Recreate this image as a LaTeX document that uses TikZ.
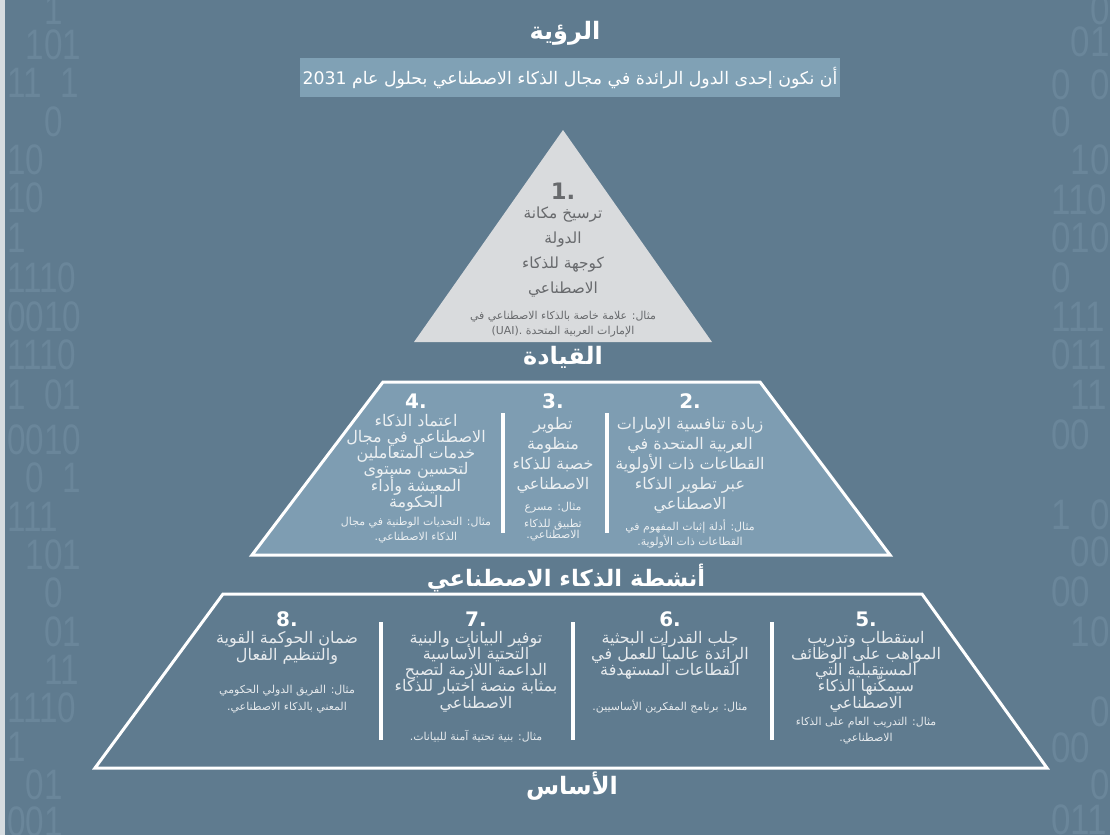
\documentclass[tikz,border=0pt]{standalone}
\usepackage{fontspec}
\TeXXeTstate=1
\newfontfamily\arfont[Script=Arabic]{DejaVu Sans}
\newfontfamily\numfont{DejaVu Sans}
\newfontfamily\digfont{Liberation Sans}
\newcommand\AR[1]{\beginR#1\endR}
\newcommand\z{\phantom{0}}
% one node per line of right-to-left text: name, x, first baseline, step, style, lines
\newcommand\arlines[6]{%
  \foreach \lin [count=\i] in {#6}
    \node[#5] (#1-\i) at (#2,{#3+(\i-1)*#4}) {\beginR\lin\endR};}
\definecolor{bgcol}{RGB}{95,123,143}
\definecolor{edgecol}{RGB}{214,220,224}
\definecolor{digcol}{RGB}{106,134,154}
\definecolor{viscol}{RGB}{128,161,181}
\definecolor{tricol}{RGB}{217,219,221}
\definecolor{tritxt}{RGB}{104,106,109}
\definecolor{midcol}{RGB}{126,157,178}
\definecolor{midtxt}{RGB}{236,240,242}
\definecolor{bottxt}{RGB}{230,234,237}
\begin{document}
\begin{tikzpicture}[x=0.75pt,y=-0.75pt,
  ttl/.style={font=\arfont\bfseries\fontsize{18}{18}\selectfont, text=white, inner sep=0pt},
  numtri/.style={font=\numfont\bfseries\fontsize{17}{17}\selectfont, text=tritxt, inner sep=0pt},
  num/.style={font=\numfont\bfseries\fontsize{15}{15}\selectfont, text=white, inner sep=0pt},
  tribody/.style={font=\arfont\fontsize{11.5}{11.5}\selectfont, text=tritxt, anchor=base, inner sep=0pt},
  triex/.style={font=\arfont\fontsize{8.2}{8.2}\selectfont, text=tritxt, anchor=base, inner sep=0pt},
  midbody/.style={font=\arfont\fontsize{12}{12}\selectfont, text=midtxt, anchor=base, inner sep=0pt},
  midex/.style={font=\arfont\fontsize{8.2}{8.2}\selectfont, text=midtxt, anchor=base, inner sep=0pt},
  botbody/.style={font=\arfont\fontsize{12}{12}\selectfont, text=bottxt, anchor=base, inner sep=0pt},
  botex/.style={font=\arfont\fontsize{8.2}{8.2}\selectfont, text=bottxt, anchor=base, inner sep=0pt},
  dig/.style={font=\digfont\fontsize{32}{32}\selectfont, text=digcol, inner sep=0pt, anchor=west},
  frame/.style={draw=white, line width=2.25pt, line join=miter},
  divider/.style={draw=white, line width=3pt}]
\useasboundingbox (0,0) rectangle (1110,835);
\fill[bgcol] (0,0) rectangle (1110,835);
\fill[edgecol] (0,0) rectangle (5,835);

% binary digits along the left and right edges
\foreach \yy/\rr [count=\i] in {10/\z\z1, 45/\z101, 83/11\z1, 122/\z\z0, 160/10, 198/10,
    238/1, 278/1110, 317/0010, 355/1110, 395/1\z01, 440/0010, 478/\z0\z1, 517/111,
    555/\z101, 593/\z\z0, 632/\z\z01, 670/\z\z11, 708/1110, 747/1, 785/\z01, 822/001}
  \node[dig] (dl\i) at (7,\yy) {\scalebox{0.78}[1]{\rr}};
\foreach \yy/\rr [count=\i] in {10/\z\z0, 42/\z01, 85/0\z0, 122/0, 160/\z10, 200/110,
    238/010, 278/0, 317/111, 355/011, 395/\z11, 435/00, 515/1\z0, 552/\z00, 592/00,
    632/\z10, 712/\z\z0, 748/00, 785/\z\z0, 820/011}
  \node[dig] (dr\i) at (1051,\yy) {\scalebox{0.82}[1]{\rr}};

% vision
\node[ttl] (vtitle) at (565,33) {\AR{الرؤية}};
\node[fill=viscol, minimum width=405pt, minimum height=29.25pt, inner sep=0pt,
  font=\arfont\fontsize{13}{13}\selectfont, text=white] (vision) at (570,77.5)
  {\AR{أن نكون إحدى الدول الرائدة في مجال الذكاء الاصطناعي بحلول عام \beginL2031\endL}};

% leadership
\fill[tricol] (563,130) -- (414,342) -- (712,342) -- cycle;
\node[numtri] (n1) at (563,191) {1.};
\arlines{g1}{563}{218}{25}{tribody}{ترسيخ مكانة, الدولة, كوجهة للذكاء, الاصطناعي}
\node[triex] (e1-1) at (563,319) {\AR{مثال: علامة خاصة بالذكاء الاصطناعي في}};
\node[triex] (e1-2) at (563,334) {{\numfont(UAI).}\ \AR{الإمارات العربية المتحدة}};
\node[ttl] (lead) at (563,357) {\AR{القيادة}};

% AI activities
\draw[frame, fill=midcol] (383,382) -- (760,382) -- (890,555) -- (252,555) -- cycle;
\draw[divider] (503,413) -- (503,533);
\draw[divider] (607,413) -- (607,533);
\node[num] (n2) at (690,401) {2.};
\arlines{g2}{690}{429}{20}{midbody}{زيادة تنافسية الإمارات, العربية المتحدة في, القطاعات ذات الأولوية, عبر تطوير الذكاء, الاصطناعي}
\arlines{e2}{690}{530}{15}{midex}{مثال: أدلة إثبات المفهوم في, القطاعات ذات الأولوية.}
\node[num] (n3) at (553,401) {3.};
\arlines{g3}{553}{429}{20}{midbody}{تطوير, منظومة, خصبة للذكاء, الاصطناعي}
\arlines{e3}{553}{510}{17}{midex}{مثال: مسرع, تطبيق للذكاء}
\node[midex] (e3-3) at (553,538) {\AR{الاصطناعي.}};
\node[num] (n4) at (416,401) {4.};
\arlines{g4}{416}{426}{16.3}{midbody}{اعتماد الذكاء, الاصطناعي في مجال, خدمات المتعاملين, لتحسين مستوى, المعيشة وأداء, الحكومة}
\arlines{e4}{416}{525}{15.5}{midex}{مثال: التحديات الوطنية في مجال, الذكاء الاصطناعي.}
\node[ttl, font=\arfont\bfseries\fontsize{17}{17}\selectfont] (act) at (566,578) {\AR{أنشطة الذكاء الاصطناعي}};

% foundation
\draw[frame] (223,594) -- (922,594) -- (1047,768) -- (95,768) -- cycle;
\draw[divider] (381,622) -- (381,740);
\draw[divider] (573,622) -- (573,740);
\draw[divider] (772,622) -- (772,740);
\node[num] (n5) at (866,619) {5.};
\arlines{g5}{866}{643}{16.3}{botbody}{استقطاب وتدريب, المواهب على الوظائف, المستقبلية التي, سيمكّنها الذكاء, الاصطناعي}
\arlines{e5}{866}{725}{16}{botex}{مثال: التدريب العام على الذكاء, الاصطناعي.}
\node[num] (n6) at (670,619) {6.};
\arlines{g6}{670}{643}{16}{botbody}{جلب القدرات البحثية, الرائدة عالمياً للعمل في, القطاعات المستهدفة}
\arlines{e6}{670}{710}{16}{botex}{مثال: برنامج المفكرين الأساسيين.}
\node[num] (n7) at (476,619) {7.};
\arlines{g7}{476}{643}{16.3}{botbody}{توفير البيانات والبنية, التحتية الأساسية, الداعمة اللازمة لتصبح, بمثابة منصة اختبار للذكاء, الاصطناعي}
\arlines{e7}{476}{740}{16}{botex}{مثال: بنية تحتية آمنة للبيانات.}
\node[num] (n8) at (287,619) {8.};
\arlines{g8}{287}{643}{17}{botbody}{ضمان الحوكمة القوية, والتنظيم الفعال}
\arlines{e8}{287}{693}{17}{botex}{مثال: الفريق الدولي الحكومي, المعني بالذكاء الاصطناعي.}
\node[ttl] (base) at (572,786) {\AR{الأساس}};
\end{tikzpicture}
\end{document}
